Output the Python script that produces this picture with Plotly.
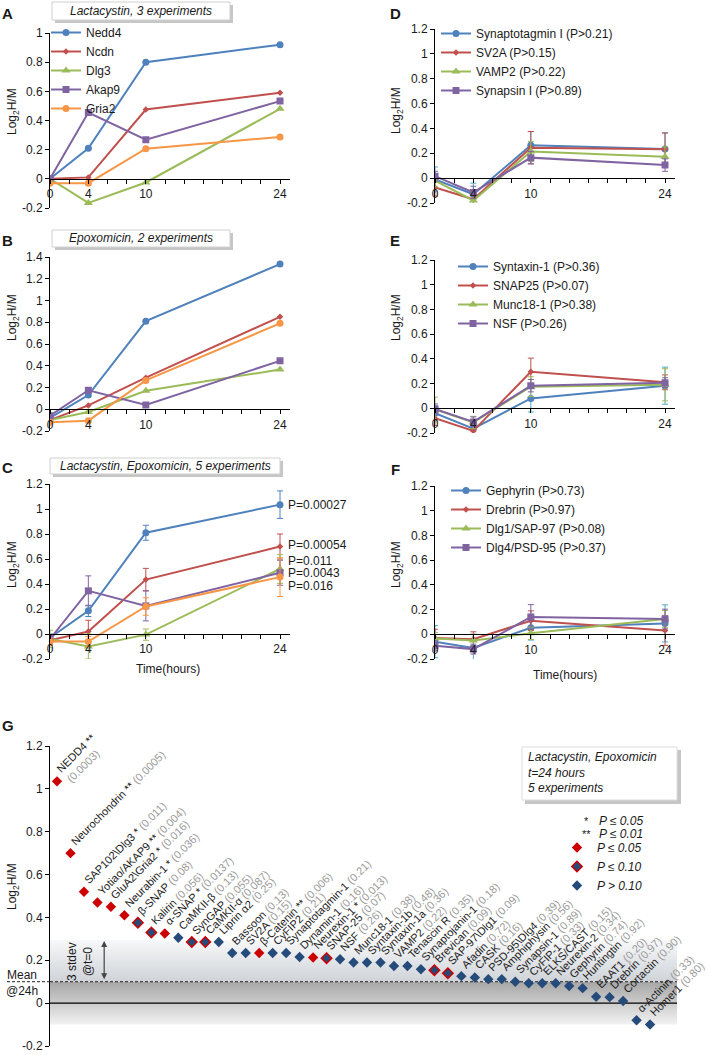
import plotly.graph_objects as go

W, H = 709, 1055
FONT = "Liberation Sans, Arial, Helvetica, sans-serif"
TXT = "#1a1a1a"


def px(x):
    return x / W


def py(y):
    return 1 - y / H


# ---------------- data ----------------
hours = [0, 4, 10, 24]
hour_ticks = [0, 4, 10, 24]
minor_hours = list(range(0, 25, 2))

# Panel A  (Lactacystin, 3 experiments)
a_labels = ["Nedd4", "Ncdn", "Dlg3", "Akap9", "Gria2"]
a_nedd4 = [0.0, 0.21, 0.80, 0.92]
a_ncdn = [0.0, 0.01, 0.475, 0.59]
a_dlg3 = [0.0, -0.165, -0.025, 0.48]
a_akap9 = [0.0, 0.455, 0.268, 0.533]
a_gria2 = [-0.03, -0.03, 0.207, 0.287]

# Panel B  (Epoxomicin, 2 experiments)
b_nedd4 = [-0.08, 0.13, 0.81, 1.335]
b_ncdn = [-0.10, 0.035, 0.29, 0.85]
b_dlg3 = [-0.10, -0.025, 0.17, 0.365]
b_akap9 = [-0.06, 0.175, 0.04, 0.445]
b_gria2 = [-0.12, -0.105, 0.265, 0.79]

# Panel C  (Lactacystin, Epoxomicin, 5 experiments)
c_nedd4 = [-0.03, 0.185, 0.81, 1.035]
c_ncdn = [-0.05, 0.02, 0.435, 0.70]
c_dlg3 = [-0.04, -0.10, -0.005, 0.52]
c_akap9 = [-0.04, 0.345, 0.225, 0.49]
c_gria2 = [-0.06, -0.06, 0.22, 0.455]
c_nedd4_err = [0.03, 0.045, 0.06, 0.11]
c_ncdn_err = [0.03, 0.09, 0.09, 0.10]
c_dlg3_err = [0.07, 0.10, 0.045, 0.115]
c_akap9_err = [0.03, 0.12, 0.12, 0.10]
c_gria2_err = [0.03, 0.04, 0.07, 0.155]
c_pvalues = ["P=0.00027", "P=0.00054", "P=0.011", "P=0.0043", "P=0.016"]
c_pvalue_label_y = [1.035, 0.715, 0.585, 0.49, 0.385]

# Panel D
d_labels = ["Synaptotagmin I (P>0.21)", "SV2A (P>0.15)", "VAMP2 (P>0.22)", "Synapsin I (P>0.89)"]
d_syt = [-0.01, -0.13, 0.265, 0.235]
d_sv2a = [-0.075, -0.17, 0.245, 0.233]
d_vamp2 = [-0.02, -0.18, 0.215, 0.172]
d_syn = [0.015, -0.115, 0.165, 0.105]
d_syt_err = [0.10, 0.09, 0.11, 0.13]
d_sv2a_err = [0.07, 0.06, 0.13, 0.13]
d_vamp2_err = [0.05, 0.07, 0.08, 0.08]
d_syn_err = [0.04, 0.05, 0.05, 0.05]

# Panel E
e_labels = ["Syntaxin-1 (P>0.36)", "SNAP25 (P>0.07)", "Munc18-1 (P>0.38)", "NSF (P>0.26)"]
e_stx = [-0.04, -0.165, 0.08, 0.183]
e_snap25 = [-0.08, -0.183, 0.296, 0.21]
e_munc = [-0.01, -0.115, 0.175, 0.19]
e_nsf = [-0.005, -0.11, 0.183, 0.207]
e_stx_err = [0.06, 0.07, 0.11, 0.15]
e_snap25_err = [0.06, 0.07, 0.11, 0.06]
e_munc_err = [0.10, 0.05, 0.08, 0.13]
e_nsf_err = [0.04, 0.04, 0.05, 0.04]

# Panel F
f_labels = ["Gephyrin (P>0.73)", "Drebrin (P>0.97)", "Dlg1/SAP-97 (P>0.08)", "Dlg4/PSD-95 (P>0.37)"]
f_geph = [-0.06, -0.11, 0.053, 0.088]
f_drebrin = [-0.03, -0.04, 0.11, 0.03]
f_dlg1 = [-0.035, -0.05, 0.008, 0.123]
f_dlg4 = [-0.093, -0.12, 0.14, 0.123]
f_geph_err = [0.13, 0.11, 0.10, 0.15]
f_drebrin_err = [0.07, 0.06, 0.08, 0.12]
f_dlg1_err = [0.05, 0.05, 0.05, 0.07]
f_dlg4_err = [0.04, 0.04, 0.10, 0.08]

# Panel G  (t=24 h, ranked)
g_names = ["NEDD4", "Neurochondrin", "SAP102\\Dlg3", "Yotiao/AKAP9", "GluA2\\Gria2", "Neurabin-1",
           "β-SNAP", "Kalirin", "α-SNAP", "CaMKII-β", "SynGAP", "CaMKII-α", "Liprin α2", "Bassoon",
           "SV2A", "β-Catenin", "CyFIP2", "Synaptotagmin-1", "Dynamin-1", "Neurexin-1", "SNAP-25",
           "NSF", "Munc18-1", "Syntaxin-1b", "Syntaxin-1a", "VAMP2", "Tenascin R", "Synaptojanin-1",
           "Brevican", "SAP-97\\Dlg1", "Afadin", "CASK", "PSD-95\\Dlg4", "Amphiphysin", "Synapsin-1",
           "CyFIP-1", "ELKS/CAST", "Neurexin-2", "Gephyrin", "Huntingtin", "EAAT1", "Drebrin",
           "Cortactin", "α-Actinin", "Homer1"]
g_pvals = ["0.0003", "0.0005", "0.011", "0.004", "0.016", "0.036", "0.08", "0.056", "0.0137", "0.13",
           "0.055", "0.087", "0.25", "0.13", "0.15", "0.006", "0.21", "0.21", "0.16", "0.013", "0.07",
           "0.26", "0.38", "0.48", "0.36", "0.22", "0.35", "0.18", "0.09", "0.09", "0.72", "0.16",
           "0.39", "0.56", "0.89", "0.33", "0.15", "0.34", "0.74", "0.92", "0.20", "0.97", "0.90",
           "0.33", "0.80"]
g_values = [1.035, 0.70, 0.52, 0.47, 0.45, 0.41, 0.375, 0.33, 0.325, 0.305, 0.285, 0.285, 0.285,
            0.234, 0.234, 0.234, 0.234, 0.234, 0.215, 0.213, 0.21, 0.205, 0.19, 0.19, 0.19, 0.173,
            0.173, 0.158, 0.154, 0.14, 0.126, 0.12, 0.112, 0.112, 0.10, 0.093, 0.093, 0.093, 0.08,
            0.07, 0.03, 0.028, 0.01, -0.08, -0.10]
g_mean = 0.10
g_band_top = 0.295
g_band_bottom = -0.10
g_yticks = [-0.2, 0, 0.2, 0.4, 0.6, 0.8, 1.0, 1.2]
g_class_names = ["<i>P ≤ 0.05</i>", "<i>P ≤ 0.10</i>", "<i>P > 0.10</i>"]

# ---------------- styles ----------------
STY = [
    dict(color="#4F81BD", symbol="circle", size=7),
    dict(color="#C0504D", symbol="diamond", size=5),
    dict(color="#9BBB59", symbol="triangle-up", size=8),
    dict(color="#8064A2", symbol="square", size=7),
    dict(color="#F79646", symbol="circle", size=7),
]
ERR_CYAN = "#4BACC6"
G_RED = "#CC0000"
G_BLUE = "#254B7A"

fig = go.Figure()
annotations = []
shapes = []
layout_axes = {}


def paper_text(x, y, text, size=12, xanchor="center", yanchor="middle", **kw):
    d = dict(x=px(x), y=py(y), xref="paper", yref="paper", text=text, showarrow=False,
             xanchor=xanchor, yanchor=yanchor, font=dict(size=size, color=TXT, family=FONT))
    d.update(kw)
    annotations.append(d)


def axname(i, letter):
    return letter if i == 1 else f"{letter}{i}"


def time_panel(i, xpx, ypx, yr, yticks, series, errs, names, legend, err_first_color):
    xa, ya = axname(i, "x"), axname(i, "y")
    d0, d1 = py(ypx[1]), py(ypx[0])
    pos = d0 + (0 - yr[0]) / (yr[1] - yr[0]) * (d1 - d0)
    layout_axes[axname(i, "xaxis")] = dict(
        domain=[px(xpx[0]), px(xpx[1])], range=[0, 25], anchor="free", position=pos,
        automargin=False,
        showgrid=False, zeroline=False, showline=True, linecolor="#000", linewidth=1,
        ticks="outside", ticklen=4, tickcolor="#000", tickmode="array",
        tickvals=hour_ticks, ticktext=[str(t) for t in hour_ticks],
        tickfont=dict(size=12, color=TXT, family=FONT),
        minor=dict(tickvals=minor_hours, ticks="outside", ticklen=4, tickcolor="#000"),
    )
    layout_axes[axname(i, "yaxis")] = dict(
        domain=[d0, d1], range=list(yr), anchor=xa, automargin=False,
        showgrid=False, zeroline=False, showline=True, linecolor="#000", linewidth=1,
        ticks="outside", ticklen=4, tickcolor="#000", tickmode="array",
        tickvals=yticks, ticktext=[f"{v:g}" for v in yticks],
        tickfont=dict(size=12, color=TXT, family=FONT),
    )
    for k, ys in enumerate(series):
        st = STY[k]
        e = None
        if errs is not None:
            ec = err_first_color if k == 0 else st["color"]
            e = dict(type="data", array=errs[k], color=ec, thickness=1, width=3)
        fig.add_trace(go.Scatter(
            x=hours, y=ys, mode="lines+markers",
            name=names[k] if names else f"series {k}",
            line=dict(color=st["color"], width=2),
            marker=dict(color=st["color"], symbol=st["symbol"], size=st["size"]),
            error_y=e, xaxis=xa, yaxis=ya,
            legend=legend if legend else "legend", showlegend=bool(names),
            hoverinfo="skip",
        ))


yt_12 = [-0.2, 0, 0.2, 0.4, 0.6, 0.8, 1.0, 1.2]
time_panel(1, (50, 289.6), (33, 208), (-0.2, 1.0), [-0.2, 0, 0.2, 0.4, 0.6, 0.8, 1.0],
           [a_nedd4, a_ncdn, a_dlg3, a_akap9, a_gria2], None, a_labels, "legend", None)
time_panel(2, (50, 289.6), (257, 431), (-0.2, 1.4), [-0.2, 0, 0.2, 0.4, 0.6, 0.8, 1.0, 1.2, 1.4],
           [b_nedd4, b_ncdn, b_dlg3, b_akap9, b_gria2], None, None, None, None)
time_panel(3, (50, 289.6), (484, 659), (-0.2, 1.2), yt_12,
           [c_nedd4, c_ncdn, c_dlg3, c_akap9, c_gria2],
           [c_nedd4_err, c_ncdn_err, c_dlg3_err, c_akap9_err, c_gria2_err], None, None, STY[0]["color"])
time_panel(4, (435, 674.6), (29, 203), (-0.2, 1.2), yt_12,
           [d_syt, d_sv2a, d_vamp2, d_syn], [d_syt_err, d_sv2a_err, d_vamp2_err, d_syn_err],
           d_labels, "legend2", ERR_CYAN)
time_panel(5, (435, 674.6), (260, 433), (-0.2, 1.2), yt_12,
           [e_stx, e_snap25, e_munc, e_nsf], [e_stx_err, e_snap25_err, e_munc_err, e_nsf_err],
           e_labels, "legend3", ERR_CYAN)
time_panel(6, (435, 674.6), (486, 659), (-0.2, 1.2), yt_12,
           [f_geph, f_drebrin, f_dlg1, f_dlg4], [f_geph_err, f_drebrin_err, f_dlg1_err, f_dlg4_err],
           f_labels, "legend4", ERR_CYAN)

# C p-value labels
for txt, yv in zip(c_pvalues, c_pvalue_label_y):
    annotations.append(dict(x=24, y=yv, xref="x3", yref="y3", text=txt, showarrow=False,
                            xanchor="left", yanchor="middle", xshift=6,
                            font=dict(size=12, color=TXT, family=FONT)))

# ---------------- panel G ----------------
n = len(g_names)
g_xrange = [-0.52, 46.0]
layout_axes["xaxis7"] = dict(domain=[px(50), px(677)], range=g_xrange, visible=False, anchor="y7",
                             automargin=False)
layout_axes["yaxis7"] = dict(
    domain=[py(1046), py(746)], range=[-0.2, 1.2], anchor="x7", automargin=False,
    showgrid=False, zeroline=False, showline=True, linecolor="#000", linewidth=1,
    ticks="outside", ticklen=4, tickcolor="#000", tickmode="array",
    tickvals=g_yticks, ticktext=[f"{v:g}" for v in g_yticks],
    tickfont=dict(size=12, color=TXT, family=FONT),
)

# shaded 3-stdev band (two gradient halves around the mean)
xb = [g_xrange[0], g_xrange[1], g_xrange[1], g_xrange[0], g_xrange[0]]
fig.add_trace(go.Scatter(
    x=xb, y=[g_band_bottom, g_band_bottom, g_mean, g_mean, g_band_bottom],
    fill="toself", mode="lines", line=dict(width=0), xaxis="x7", yaxis="y7",
    fillgradient=dict(type="vertical", colorscale=[[0, "#f2f2f2"], [1, "#a6a6a6"]]),
    showlegend=False, hoverinfo="skip"))
fig.add_trace(go.Scatter(
    x=xb, y=[g_mean, g_mean, g_band_top, g_band_top, g_mean],
    fill="toself", mode="lines", line=dict(width=0), xaxis="x7", yaxis="y7",
    fillgradient=dict(type="vertical", colorscale=[[0, "#cfd3d8"], [1, "#f7f8f9"]]),
    showlegend=False, hoverinfo="skip"))
# zero line and mean line
fig.add_trace(go.Scatter(x=g_xrange, y=[0, 0], mode="lines", line=dict(color="#000", width=1.2),
                         xaxis="x7", yaxis="y7", showlegend=False, hoverinfo="skip"))
fig.add_trace(go.Scatter(x=g_xrange, y=[g_mean, g_mean], mode="lines",
                         line=dict(color="#222", width=1, dash="3px,2px"),
                         xaxis="x7", yaxis="y7", showlegend=False, hoverinfo="skip"))
shapes.append(dict(type="line", xref="paper", yref="y7", x0=px(7), x1=px(50), y0=g_mean, y1=g_mean,
                   line=dict(color="#222", width=1, dash="3px,2px")))


def g_class(p):
    p = float(p)
    return 0 if p <= 0.05 else (1 if p <= 0.10 else 2)


cls = [g_class(p) for p in g_pvals]
marker_styles = [
    dict(color=G_RED, symbol="diamond", size=8, line=dict(color=G_RED, width=0)),
    dict(color=G_BLUE, symbol="diamond", size=8, line=dict(color=G_RED, width=1.5)),
    dict(color=G_BLUE, symbol="diamond", size=8, line=dict(color=G_BLUE, width=0)),
]
for c in range(3):
    xs = [i for i in range(n) if cls[i] == c]
    ys = [g_values[i] for i in xs]
    fig.add_trace(go.Scatter(x=xs, y=ys, mode="markers", marker=marker_styles[c],
                             name=g_class_names[c], xaxis="x7", yaxis="y7",
                             legend="legend5", hoverinfo="skip"))

for i in range(n):
    p = float(g_pvals[i])
    stars = "**" if p <= 0.01 else ("*" if p <= 0.05 else "")
    name = g_names[i] + (" " + stars if stars else "")
    pv = f"<span style='color:#9a9a9a'>({g_pvals[i]})</span>"
    if i == 0:
        text = f"{name}<br>{pv}"
        xs_, ys_ = -6, -6
    else:
        text = f"{name} {pv}"
        xs_, ys_ = -5, 3
    annotations.append(dict(x=i, y=g_values[i], xref="x7", yref="y7", text=text, showarrow=False,
                            textangle=-45, xanchor="left", yanchor="bottom", xshift=xs_, yshift=ys_,
                            align="left", font=dict(size=11, color=TXT, family=FONT)))

# 3 stdev arrow
annotations.append(dict(x=3.5, y=g_band_top - 0.005, ax=3.5, ay=g_mean + 0.005, xref="x7", yref="y7",
                        axref="x7", ayref="y7", text="", showarrow=True, arrowhead=2,
                        arrowside="end+start", arrowsize=1, arrowwidth=1.2, arrowcolor="#444"))
paper_text(80, 962, "3 stdev<br>@t=0", textangle=-90)
paper_text(22, 975, "Mean")
paper_text(22, 991, "@24h")
# star legend lines
for yy, st in [(821, "*"), (834, "**")]:
    paper_text(586, yy, st, size=11)
for yy, tx in [(821, "<i>P ≤ 0.05</i>"), (834, "<i>P ≤ 0.01</i>")]:
    paper_text(597, yy, tx, xanchor="left")

# ---------------- titles / boxes / labels ----------------
boxes = [
    (52, 230, 2, 20, "<i>Lactacystin, 3 experiments</i>"),
    (52, 230, 230, 247, "<i>Epoxomicin, 2 experiments</i>"),
    (50, 280, 458, 474, "<i>Lactacystin, Epoxomicin, 5 experiments</i>"),
]
for x0, x1, y0, y1, tx in boxes:
    shapes.append(dict(type="rect", xref="paper", yref="paper", x0=px(x0 + 3), x1=px(x1 + 3),
                       y0=py(y1 + 3), y1=py(y0 + 3), fillcolor="#c6c6c6", line=dict(width=0)))
    shapes.append(dict(type="rect", xref="paper", yref="paper", x0=px(x0), x1=px(x1),
                       y0=py(y1), y1=py(y0), fillcolor="white", line=dict(color="#d0d0d0", width=1)))
    paper_text((x0 + x1) / 2, (y0 + y1) / 2, tx)
# G info box
shapes.append(dict(type="rect", xref="paper", yref="paper", x0=px(525), x1=px(681),
                   y0=py(804), y1=py(750), fillcolor="#c6c6c6", line=dict(width=0)))
shapes.append(dict(type="rect", xref="paper", yref="paper", x0=px(522), x1=px(677),
                   y0=py(800), y1=py(747), fillcolor="white", line=dict(color="#dddddd", width=1)))
paper_text(526, 772, "<i>Lactacystin, Epoxomicin<br>t=24 hours<br>5 experiments</i>",
           xanchor="left", align="left")

for tx, xx, yy in [("A", 7, 13), ("B", 7, 240), ("C", 7, 467), ("D", 395, 13), ("E", 395, 240),
                   ("F", 395, 470), ("G", 8, 725)]:
    paper_text(xx, yy, f"<b>{tx}</b>", size=15)

for xx, yy in [(13, 112), (13, 318), (13, 565), (397, 111), (397, 318), (397, 565), (13, 887)]:
    paper_text(xx, yy, "Log<sub>2</sub>H/M", textangle=-90)
for xx, yy in [(168, 669), (565, 675)]:
    paper_text(xx, yy, "Time(hours)")

leg_common = dict(xanchor="left", yanchor="top", xref="container", yref="container",
                  bgcolor="rgba(0,0,0,0)", itemwidth=30,
                  tracegroupgap=0, font=dict(size=12, color=TXT, family=FONT))

fig.update_layout(
    width=W, height=H, margin=dict(l=0, r=0, t=0, b=0, autoexpand=False),
    paper_bgcolor="white", plot_bgcolor="white",
    font=dict(family=FONT, size=12, color=TXT),
    showlegend=True,
    legend=dict(x=px(46), y=py(18), **leg_common),
    legend2=dict(x=px(436), y=py(19), **leg_common),
    legend3=dict(x=px(453), y=py(252), **leg_common),
    legend4=dict(x=px(446), y=py(476), **leg_common),
    legend5=dict(x=px(557), y=py(833), **leg_common),
    annotations=annotations, shapes=shapes,
    **layout_axes,
)

fig.write_html("out.html", config={"displayModeBar": False},
               post_script="document.body.style.margin='0';document.body.style.overflow='hidden';")
